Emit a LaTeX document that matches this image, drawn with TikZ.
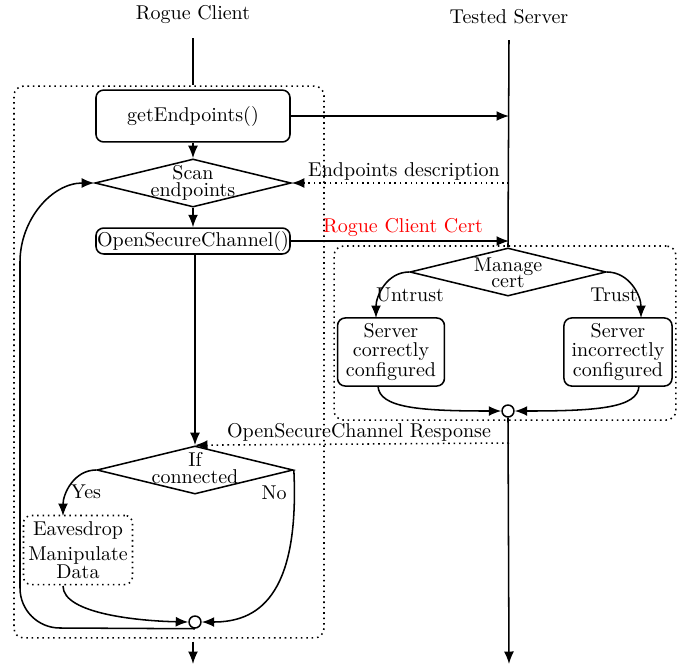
\documentclass[tikz,border=0pt]{standalone}
\usetikzlibrary{arrows.meta,shapes.geometric}
\begin{document}
\begin{tikzpicture}[x=0.52pt,y=-0.52pt, thick,
  every node/.append style={font=\fontsize{10.4pt}{12.5pt}\selectfont},
  >={Latex[length=6.5pt,width=5.2pt]},
  box/.style={draw, rounded corners=4pt, align=center, inner sep=1pt},
  dia/.style={draw, diamond, inner sep=0pt, minimum width=102pt, minimum height=25pt},
  merge/.style={draw, circle, minimum size=6.2pt, inner sep=0pt, fill=white},
  frame/.style={draw, dotted, rounded corners=5pt, inner sep=0pt},
  lbl/.style={inner sep=1pt}]
\useasboundingbox (0,0) rectangle (683,668);

% headers and lifeline ends
\node[lbl] (hc) at (193,15) {Rogue Client};
\node[lbl] (hs) at (509,17) {Tested Server};
\coordinate (ctop) at (193,38);
\coordinate (stop) at (509,40);
\coordinate (cbot) at (193,664);
\coordinate (sbot) at (509,664);

% frames
\node[frame, minimum width=161.2pt, minimum height=287pt] (cframe) at (169,362) {};
\node[frame, minimum width=177.8pt, minimum height=90.5pt] (sframe) at (505,333) {};

% client nodes
\node[box, minimum width=100.9pt, minimum height=27pt] (getE) at (193,116) {getEndpoints()};
\node[dia] (scan) at (193,183) {};
\node[align=center, inner sep=0pt] (scanT) at (193,183) {Scan\\[-4pt]endpoints};
\node[box, minimum width=100.9pt, minimum height=13.5pt, inner sep=0.3pt] (osc) at (193,241) {OpenSecureChannel()};
\node[dia] (ifc) at (195,470) {};
\node[align=center, inner sep=0pt] (ifcT) at (195,468) {If\\[-3.5pt]connected};
\node[box, dotted, minimum width=56.7pt, minimum height=35.9pt] (eav) at (78,550) {Eavesdrop\\[0.5pt]Manipulate\\[-3pt]Data};
\node[merge] (m2) at (195,622) {};

% server nodes
\node[dia] (man) at (508,272) {};
\node[align=center, inner sep=0pt] (manT) at (508,273) {Manage\\[-4pt]cert};
\node[box, minimum width=55.6pt, minimum height=35.4pt] (sc) at (391,352) {Server\\[-2.5pt]correctly\\[-2.5pt]configured};
\node[box, minimum width=56.2pt, minimum height=35.4pt] (si) at (618,352) {Server\\[-2.5pt]incorrectly\\[-2.5pt]configured};
\node[merge] (m1) at (508,411) {};

% lifelines
\draw (ctop) -- (ctop |- cframe.north);
\draw[->] (cframe.south -| cbot) ++(0,3) -- (cbot);
\draw (stop) -- (man.north);
\draw[->] (m1.south) -- (sbot);

% client flow
\draw[->] (getE) -- (scan);
\draw[->] (scan) -- (osc);
\draw[->] (osc.south -| ifc.north) -- (ifc.north);
\draw[->] (ifc.west) to[out=180,in=90] (63,516);
\node[lbl] (yes) at (86,492) {Yes};
\draw[->] (ifc.east) .. controls (300,600) and (255,622) .. (m2.east);
\node[lbl] (no) at (274,493) {No};
\draw[->] (63,586) .. controls (63,614) and (140,621) .. (m2.west);
\draw[->] (m2.south) -- (60,628) to[out=180,in=-90] (20,588) -- (20,262) to[out=90,in=180] (scan.west);

% messages
\draw[->] (getE.east) -- (getE.east -| stop);
\draw[->, dotted] (stop |- scan.east) -- (scan.east);
\node[lbl] (ed) at (404,171) {Endpoints description};
\draw[->] (osc.east) -- (osc.east -| stop);
\node[lbl, text=red] (rcc) at (403,227) {Rogue Client Cert};
\draw[->, dotted] (509,443) -- (ifc.north);
\node[lbl] (oscr) at (359,432) {OpenSecureChannel Response};

% server flow
\draw[->] (man.west) to[out=180,in=90] (376,318);
\node[lbl] (un) at (410,295) {Untrust};
\draw[->] (man.east) to[out=0,in=90] (641,318);
\node[lbl] (tr) at (614,295) {Trust};
\draw[->] (378,386) .. controls (379,408) and (420,411) .. (m1.west);
\draw[->] (639,386) .. controls (638,408) and (597,411) .. (m1.east);
\end{tikzpicture}
\end{document}
